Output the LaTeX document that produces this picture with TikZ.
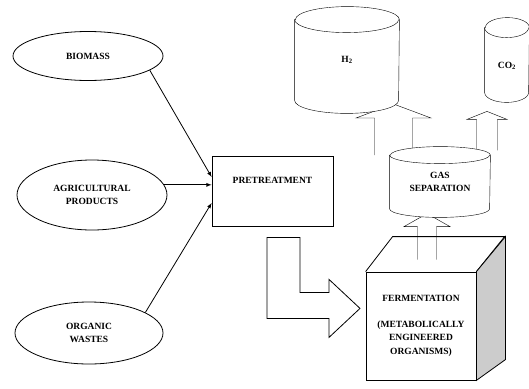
\documentclass[tikz,border=0pt]{standalone}
\usepackage{fontspec}
\setmainfont{Liberation Serif}
\usetikzlibrary{calc, shapes, shapes.geometric, arrows, positioning, backgrounds}

\begin{document}
\begin{tikzpicture}[x=1pt, y=-1pt, line width=0.8pt,
	txt/.style={font=\bfseries\fontsize{9.5}{13.5}\selectfont, align=center},
	source/.style={draw, ellipse, txt, inner sep=0pt},
	tank/.style={draw, fill=white},
	bigarrow/.style={draw, fill=white, line join=miter}]
	\useasboundingbox (0,0) rectangle (529,388);

	% feedstocks and pretreatment
	\node[source, minimum width=150pt, minimum height=49pt] (biomass) at (88,56) {BIOMASS};
	\node[source, minimum width=150pt, minimum height=70pt] (agri) at (92,195) {AGRICULTURAL\\PRODUCTS};
	\node[source, minimum width=148pt, minimum height=62pt] (organic) at (89,333) {ORGANIC\\WASTES};
	\node[draw, txt, minimum width=121pt, minimum height=70pt, text depth=22pt] (pretreat) at (272.5,191) {PRETREATMENT};

	\draw[-latex] (biomass.-13) -- ($(pretreat.west)+(0,-14)$);
	\draw[-latex] (agri.8) -- (agri.8 -| pretreat.west);
	\draw[-latex] (organic.20) -- ($(pretreat.west)+(0,12)$);

	% fermenter cube
	\node[draw, txt, minimum width=110pt, minimum height=108pt] (ferment) at (421,326)
		{FERMENTATION\\[12pt](METABOLICALLY\\ENGINEERED\\ORGANISMS)};
	\draw (ferment.north west) -- ++(27,-35) -- ++(112,0) -- (ferment.north east);
	\draw[fill=gray!40] (ferment.north east) -- ++(29,-35) -- ++(0,123) -- (ferment.south east) -- cycle;

	% gas tanks
	\node[txt, minimum width=104pt, minimum height=106pt] (h2) at (347,60) {H\textsubscript{2}};
	\node[txt, minimum width=44pt, minimum height=84pt, text height=18pt] (co2) at (507,60) {CO\textsubscript{2}};
	\node[txt, minimum width=100pt, minimum height=70pt] (gassep) at (440,182) {GAS\\SEPARATION};

	% block arrows, then tank outlines over them
	\coordinate (a1) at ($(h2.south)!.5!(gassep.north)$);
	\coordinate (a2) at ($(co2.south)+(-20,0)$);
	\coordinate (a3) at ($(ferment.north)+(6,0)$);
	\coordinate (a4) at (pretreat.south);
	\begin{scope}[on background layer]
		\draw[bigarrow] ($(a1)+(-19,25)$) -- ++(0,-37) -- ++(-18.5,0) -- ++(37.5,-14) -- ++(37.5,14) -- ++(-18.5,0) -- ++(0,37);
		\draw[bigarrow] ($(a2)+(-10.5,48)$) -- ++(0,-31) -- ++(-9.5,0) -- ++(20,-8) -- ++(20,8) -- ++(-9.5,0) -- ++(0,31);
		\draw[bigarrow] ($(a3)+(-9.5,-12)$) -- ++(0,-33) -- ++(-13.5,0) -- ++(23,-13) -- ++(23,13) -- ++(-13.5,0) -- ++(0,33);
	\foreach \n/\r/\e in {h2/52/13, co2/22/10, gassep/50/8.5}{
		\draw[tank] ($(\n.north west)+(0,\e)$) -- ($(\n.south west)+(0,-\e)$)
			arc[start angle=180, end angle=0, x radius=\r, y radius=\e]
			-- ($(\n.north east)+(0,\e)$)
			arc[start angle=360, end angle=180, x radius=\r, y radius=\e] -- cycle;
		\draw ($(\n.north west)+(0,\e)$) arc[start angle=180, end angle=0, x radius=\r, y radius=\e];
	}
	\end{scope}
	\draw[bigarrow] ($(a4)+(-5.5,11)$) -- ++(33,0) -- ++(0,55) -- ++(29,0) -- ++(0,-13) -- ++(31,29) -- ++(-31,29) -- ++(0,-19) -- ++(-62,0) -- cycle;
\end{tikzpicture}
\end{document}
